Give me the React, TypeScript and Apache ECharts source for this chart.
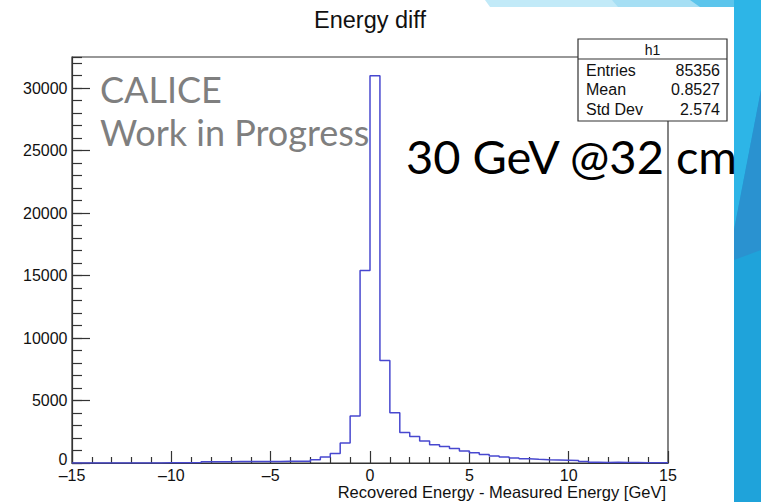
import React, { useEffect, useRef } from "react";
import * as echarts from "echarts";

// ---- data ----
const BIN_MIN = -15;
const BIN_WIDTH = 0.5;
const binCounts = [
  0, 0, 0, 0, 0, 0, 0, 0, 0,
  20, 30, 30, 40,
  100, 110, 110, 120, 120, 120, 130, 130, 140, 140, 150,
  267, 480, 760, 1610, 3760, 15400, 31000, 8200, 4020, 2440, 2120, 1760,
  1470, 1320, 1160, 960, 820, 680, 570, 490, 410, 340, 300, 270, 250, 230,
  200, 130, 70, 50, 60, 50, 40, 30, 30, 20,
];
const statsTitle = "h1";
const statsLabels = ["Entries", "Mean", "Std Dev"];
const statsValues = ["85356", "0.8527", "2.574"];
const chartTitle = "Energy diff";
const xAxisTitle = "Recovered Energy - Measured Energy [GeV]";
const overlayLines = ["CALICE", "Work in Progress"];
const overlayLabel = "30 GeV @32 cm";

const ROOT_FONT = "'Liberation Sans', Arial, Helvetica, sans-serif";
const SLIDE_FONT = "Lato, 'Open Sans', sans-serif";
const AXIS_COLOR = "#333";

function txt(text: string, x: number, y: number, size: number, fill: string, align: string, family = ROOT_FONT, vAlign = "middle") {
  return {
    type: "text",
    x,
    y,
    z: 100,
    style: {
      text,
      fill,
      fontSize: size,
      fontFamily: family,
      align,
      textAlign: align,
      verticalAlign: vAlign,
      textVerticalAlign: vAlign,
    },
  };
}

export default function App() {
  const ref = useRef<HTMLDivElement>(null);
  useEffect(() => {
    document.body.style.margin = "0";
    const chart = echarts.init(ref.current!, null, { renderer: "svg" });
    const histData: number[][] = binCounts.map((c, i) => [BIN_MIN + i * BIN_WIDTH, c]);
    histData.push([BIN_MIN + binCounts.length * BIN_WIDTH, binCounts[binCounts.length - 1]]);

    const graphic: any[] = [
      // slide decorations
      { type: "polygon", z: 1, shape: { points: [[485, 0], [761, 0], [761, 7], [490, 7]] }, style: { fill: "#c2eaf8" } },
      { type: "polygon", z: 1, shape: { points: [[612, 0], [761, 0], [761, 7], [618, 7]] }, style: { fill: "#a6dff4" } },
      { type: "polygon", z: 1, shape: { points: [[690, 0], [761, 0], [761, 7], [700, 7]] }, style: { fill: "#5cc5ec" } },
      { type: "rect", z: 1, shape: { x: 734, y: 0, width: 27, height: 502 }, style: { fill: "#1fa3da" } },
      { type: "polygon", z: 1, shape: { points: [[734, 0], [761, 0], [761, 90], [734, 230]] }, style: { fill: "#2db5e7" } },
      { type: "polygon", z: 1, shape: { points: [[734, 230], [761, 90], [761, 250], [734, 260]] }, style: { fill: "#2a92d0" } },
      // title
      txt(chartTitle, 370, 20, 23.5, "#111", "center"),
      // overlay texts
      txt(overlayLines[0], 100, 89, 36, "#7f7f7f", "left", SLIDE_FONT),
      txt(overlayLines[1], 100, 131.5, 36, "#7f7f7f", "left", SLIDE_FONT),
      txt(overlayLabel, 406, 155.5, 47, "#000", "left", SLIDE_FONT),
      // stats box
      { type: "rect", z: 90, shape: { x: 578, y: 39, width: 149, height: 82 }, style: { fill: "#fff", stroke: AXIS_COLOR, lineWidth: 1.2 } },
      { type: "line", z: 91, shape: { x1: 578, y1: 59, x2: 727, y2: 59 }, style: { stroke: AXIS_COLOR, lineWidth: 1.2 } },
      txt(statsTitle, 652.5, 50, 14, "#111", "center"),
      ...statsLabels.map((l, i) => txt(l, 586, 70 + i * 19.8, 16, "#111", "left")),
      ...statsValues.map((v, i) => txt(v, 720, 70 + i * 19.8, 16, "#111", "right")),
      // x axis title
      txt(xAxisTitle, 666, 492, 16.5, "#111", "right"),
    ];

    const option: any = {
      animation: false,
      backgroundColor: "#fff",
      grid: {
        left: 72,
        top: 57,
        right: 93,
        bottom: 39,
        containLabel: false,
        outerBoundsMode: "none",
        show: true,
        borderColor: AXIS_COLOR,
        borderWidth: 1.2,
        backgroundColor: "transparent",
      },
      xAxis: {
        type: "value",
        min: -15,
        max: 15,
        interval: 5,
        axisLine: { show: true, onZero: false, lineStyle: { color: AXIS_COLOR, width: 1.2 } },
        axisTick: { show: true, inside: true, length: 12, lineStyle: { color: AXIS_COLOR, width: 1.2 } },
        minorTick: { show: true, splitNumber: 5, length: 6, lineStyle: { color: AXIS_COLOR, width: 1.2 } },
        splitLine: { show: false },
        minorSplitLine: { show: false },
        axisLabel: {
          margin: 12.5,
          verticalAlign: "middle",
          color: "#111",
          fontSize: 16,
          fontFamily: ROOT_FONT,
          formatter: (v: number) => (v < 0 ? "\u2013" + Math.abs(v) : String(v)),
        },
      },
      yAxis: [
        {
          type: "value",
          position: "left",
          min: 0,
          max: 32500,
          interval: 5000,
          axisLine: { show: true, onZero: false, lineStyle: { color: AXIS_COLOR, width: 1.2 } },
          axisTick: { show: true, inside: true, length: 18, lineStyle: { color: AXIS_COLOR, width: 1.2 } },
          splitLine: { show: false },
          axisLabel: {
            margin: 4.5,
            color: "#111",
            fontSize: 16,
            fontFamily: ROOT_FONT,
            showMaxLabel: false,
            formatter: (v: number) => (v === 0 ? "{z|0}" : v % 5000 === 0 ? String(v) : ""),
            rich: { z: { fontSize: 16, fontFamily: ROOT_FONT, color: "#111", padding: [0, 0, 7, 0] } },
          },
        },
        {
          type: "value",
          position: "left",
          offset: 0,
          min: 0,
          max: 32500,
          interval: 1000,
          axisLine: { show: false, onZero: false },
          axisTick: { show: true, inside: true, length: 10, lineStyle: { color: AXIS_COLOR, width: 1.2 } },
          splitLine: { show: false },
          axisLabel: { show: false },
        },
      ],
      series: [
        {
          type: "line",
          yAxisIndex: 0,
          data: histData,
          step: "end",
          symbol: "none",
          z: 5,
          lineStyle: { color: "#4848cf", width: 1.5 },
        },
      ],
      graphic,
    };
    chart.setOption(option);
    return () => chart.dispose();
  }, []);
  return (
    <div
      ref={ref}
      style={{ position: "absolute", left: 0, top: 0, width: 761, height: 502, background: "#fff" }}
    />
  );
}
